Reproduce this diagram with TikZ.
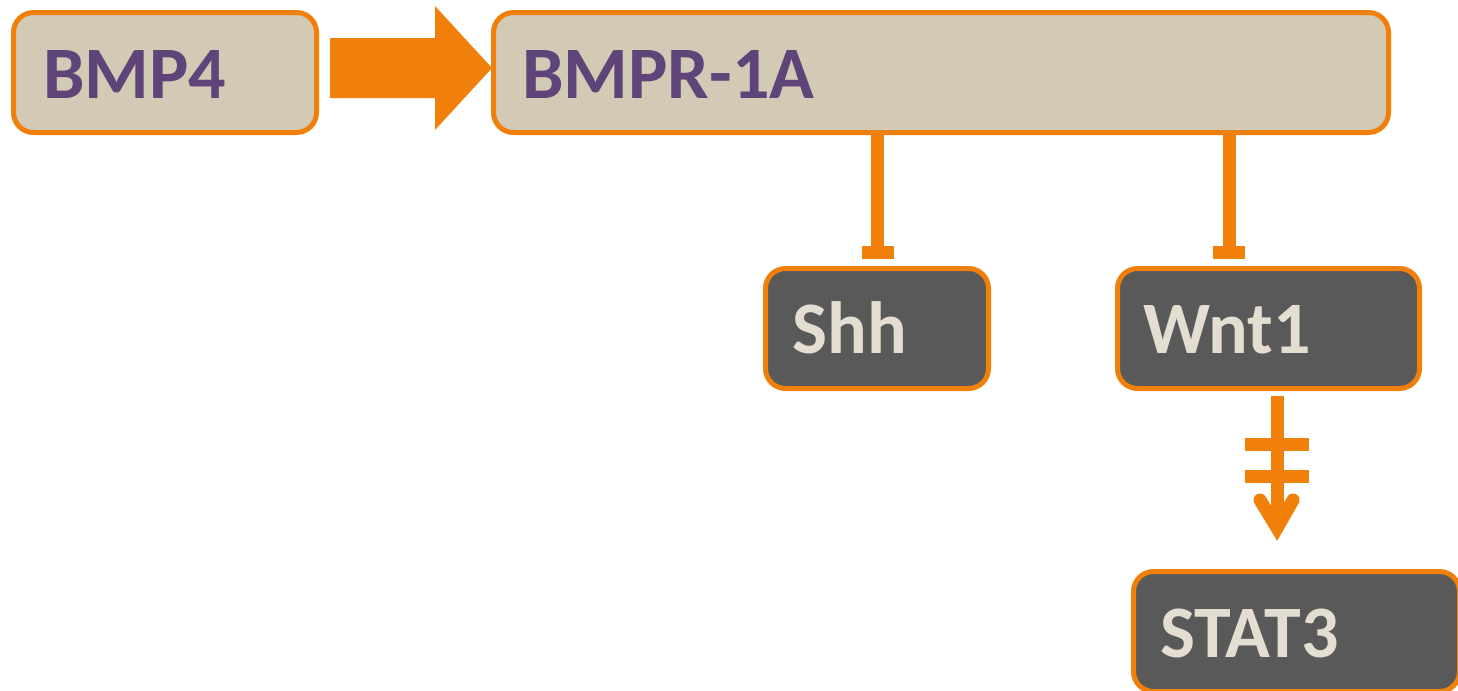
\documentclass[tikz,border=0pt]{standalone}
\usepackage{fontspec}
\setmainfont{Carlito}
\definecolor{sigorange}{HTML}{F0800A}
\definecolor{sigbeige}{HTML}{D3CAB5}
\definecolor{sigpurple}{HTML}{5F4479}
\definecolor{siggray}{HTML}{595959}
\definecolor{siglight}{HTML}{E3DDD2}
\begin{document}
\begin{tikzpicture}[x=0.5pt,y=-0.5pt,
  box/.style={draw=sigorange, line width=2.5pt, rounded corners=10pt,
    inner sep=0pt, outer sep=0pt, minimum height=60pt, anchor=north west},
  upbox/.style={box, fill=sigbeige},
  downbox/.style={box, fill=siggray},
  uplabel/.style={anchor=base west, inner sep=0pt, text=sigpurple,
    font=\fontsize{37}{40}\selectfont\bfseries},
  downlabel/.style={anchor=base west, inner sep=0pt, text=siglight,
    font=\fontsize{37}{40}\selectfont\bfseries},
  link/.style={draw=sigorange, line width=6.5pt},
  bar/.style={draw=sigorange, line width=6.5pt, line cap=butt}]
\clip (0,0) rectangle (1458,691);
\fill[white] (0,0) rectangle (1458,691);

% receptor layer
\node[upbox, minimum width=151.5pt] (bmp4) at (13.5,12.5) {};
\node[upbox, minimum width=447.5pt] (bmpr) at (493.5,12.5) {};
\node[uplabel] (bmp4t) at (43,98) {BMP4};
\node[uplabel] (bmprt) at (522,98) {BMPR-1A};

% targets
\node[downbox, minimum width=111.5pt] (shh) at (765.5,268.5) {};
\node[downbox, minimum width=151pt] (wnt) at (1117.5,268.5) {};
\node[downbox, minimum width=163pt] (stat) at (1133.5,571.5) {};
\node[downlabel] (shht) at (792,353) {Shh};
\node[downlabel] (wntt) at (1143,353) {Wnt1};
\node[downlabel] (statt) at (1160,657) {STAT3};

% block arrow BMP4 -> BMPR-1A
\fill[sigorange] (330,38) -- (435,38) -- (435,6) -- (492,68)
  -- (435,130) -- (435,98) -- (330,98) -- cycle;

% inhibition of Shh and Wnt1
\coordinate (shhbar) at (877.5,252.5);
\coordinate (wntbar) at (1229,252.5);
\draw[link] (bmpr.south -| shhbar) -- (shhbar);
\draw[bar] ([xshift=-8pt]shhbar) -- ([xshift=8pt]shhbar);
\draw[link] (bmpr.south -| wntbar) -- (wntbar);
\draw[bar] ([xshift=-8pt]wntbar) -- ([xshift=8pt]wntbar);

% Wnt1 -> STAT3, interrupted activation
\coordinate (wtop) at (1277,396);
\coordinate (wtip) at (1277,528);
\coordinate (cut1) at (1277,444.5);
\coordinate (cut2) at (1277,476);
\draw[link] (wnt.south -| wtop) ++(0,7.5) -- (wtip);
\draw[bar] ([xshift=-16pt]cut1) -- ([xshift=16pt]cut1);
\draw[bar] ([xshift=-16pt]cut2) -- ([xshift=16pt]cut2);
\draw[link, line cap=round, line join=miter]
  ([shift={(-17,-28)}]wtip) -- (wtip) -- ([shift={(16,-28)}]wtip);
\end{tikzpicture}
\end{document}
